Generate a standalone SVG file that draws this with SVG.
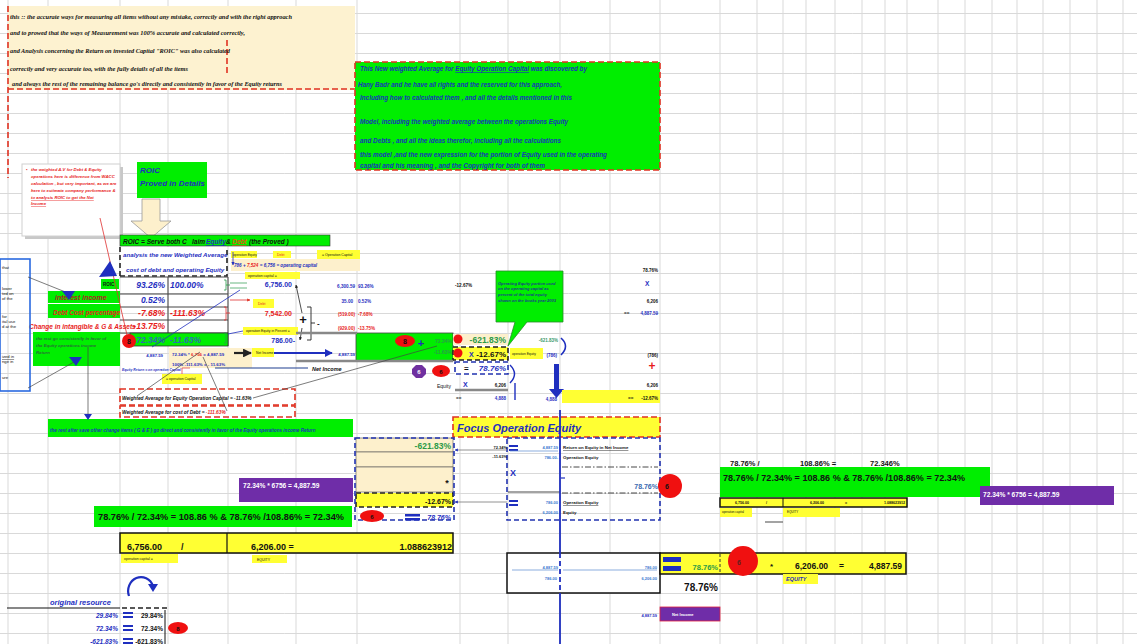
<svg xmlns="http://www.w3.org/2000/svg" width="1137" height="644" viewBox="0 0 1137 644">
<defs>
<style>
text{font-family:"Liberation Sans",Arial,sans-serif}
.bi{font-weight:bold;font-style:italic}
.b{font-weight:bold}
.sr{font-family:"Liberation Serif","Times New Roman",serif;font-style:italic;font-weight:bold;font-size:6.4px;fill:#111}
.gt{font-weight:bold;font-style:italic;font-size:6.4px;fill:#1636b8}
.bl{fill:#1f2fbf}
.rd{fill:#e81c1c}
.gn{fill:#2c9a48}
.k{fill:#111}
.w{fill:#fff}
.gbox{fill:#00ee00}
.ybox{fill:#ffff33}
.cbox{fill:#fdf0cc}
.pbox{fill:#6f2da8}
.rdash{fill:none;stroke:#e03222;stroke-width:1.6;stroke-dasharray:6 3}
.bdash{fill:none;stroke:#2233b0;stroke-width:1.6;stroke-dasharray:5 3}
.kdash{fill:none;stroke:#222;stroke-width:1.6;stroke-dasharray:5 3}
.kbox{fill:none;stroke:#111;stroke-width:1.5}
.grid{stroke:#d9d9d9;stroke-width:1}
.ln{stroke:#444;stroke-width:0.7;fill:none}
.bln{stroke:#1f2fbf;fill:none}
.dd{stroke:#333;stroke-width:0.9;stroke-dasharray:6 2 1.5 2;fill:none}
</style>
<pattern id="rows" x="0" y="13" width="1137" height="20" patternUnits="userSpaceOnUse"><line x1="0" y1="0.5" x2="1137" y2="0.5" class="grid"/></pattern>
<marker id="abl" viewBox="0 0 10 10" refX="9" refY="5" markerWidth="4" markerHeight="4" orient="auto"><path d="M0,0L10,5L0,10z" fill="#1f2fbf"/></marker>
<marker id="ak" viewBox="0 0 10 10" refX="9" refY="5" markerWidth="4" markerHeight="4" orient="auto"><path d="M0,0L10,5L0,10z" fill="#222"/></marker>
<marker id="ar" viewBox="0 0 10 10" refX="9" refY="5" markerWidth="4" markerHeight="4" orient="auto"><path d="M0,0L10,5L0,10z" fill="#e03222"/></marker>
</defs>

<g id="grid">
<rect x="0" y="0" width="1137" height="644" fill="#fff"/>
<rect x="0" y="0" width="1137" height="644" fill="url(#rows)"/>
<path class="grid" d="M8,0V644M48,0V644M120,0V644M168,0V644M228,0V644M296,0V644M357,0V644M460,0V644M508,0V644M560,0V644M610,0V644M660,0V644M720,0V644M757,0V644M783,0V644M806,0V644M835,0V644M862,0V644M885,0V644M907,0V644M938,0V644M965,0V644M992,0V644M1017,0V644M1043,0V644M1070,0V644M1097,0V644M1123,0V644"/>
</g>

<g id="intro-note">
<rect x="8" y="6" width="347" height="84" fill="#fdf2d0"/>
<path class="rdash" d="M8,89H355M8,6V178M227,40V76"/>
<text class="sr" x="10" y="19" textLength="282" lengthAdjust="spacingAndGlyphs">this :: the accurate ways for measuring all items without  any mistake, correctly and with the right approach</text>
<text class="sr" x="10" y="35" textLength="235" lengthAdjust="spacingAndGlyphs">and to prowed that  the ways of Measurement was 100% accurate and calculated correctly,</text>
<text class="sr" x="10" y="53" textLength="220" lengthAdjust="spacingAndGlyphs">and Analysis concerning the Return on invested Capital "ROIC"  was also calculated</text>
<text class="sr" x="10" y="71" textLength="178" lengthAdjust="spacingAndGlyphs">correctly and very accurate too, with the fully details of all the items</text>
<text class="sr" x="12" y="86" textLength="270" lengthAdjust="spacingAndGlyphs">and always the rest of the remaining  balance go's directly and consistently in favor of the Equity returns</text>
</g>

<g id="copyright-box">
<rect x="355" y="62" width="305" height="108" class="gbox"/>
<rect x="355" y="62" width="305" height="108" class="rdash"/>
<text class="gt" x="360" y="71" textLength="227" lengthAdjust="spacingAndGlyphs">This New weighted Average for <tspan text-decoration="underline">Equity Operation Capital</tspan> was discovered by</text>
<text class="gt" x="358" y="87" textLength="204" lengthAdjust="spacingAndGlyphs">Hany Badr and he have all rights  and the reserved for this approach,</text>
<text class="gt" x="360" y="100" textLength="212" lengthAdjust="spacingAndGlyphs">Including  how to calculated them , and all the details mentioned in this</text>
<text class="gt" x="360" y="124" textLength="208" lengthAdjust="spacingAndGlyphs">Model, including the weighted average between the operations Equity</text>
<text class="gt" x="360" y="143" textLength="201" lengthAdjust="spacingAndGlyphs">and Debts , and all the  ideas therefor,  including all the calculations</text>
<text class="gt" x="360" y="157" textLength="247" lengthAdjust="spacingAndGlyphs">this model ,and the new expression for the portion of Equity used in the operating</text>
<text class="gt" x="360" y="168" textLength="185" lengthAdjust="spacingAndGlyphs">capital and his meaning   , and the Copyright for both of them</text>
</g>

<g id="wacc-note">
<rect x="25" y="167" width="98" height="72" fill="#c8c8c8"/>
<rect x="22" y="164" width="98" height="72" fill="#fff" stroke="#d0d0d0"/>
<g class="bi rd" font-size="4.3">
<text x="26" y="171">•</text>
<text x="31" y="171">the weighted A.V for Debt &amp; Equity</text>
<text x="31" y="178">operations here is difference from WACC</text>
<text x="31" y="185">calculation , but very important, as we are</text>
<text x="31" y="192">here to estimate company performance &amp;</text>
<text x="31" y="199" text-decoration="underline">to analysis ROIC to get the Net</text>
<text x="31" y="205" text-decoration="underline">Income</text>
</g>
</g>

<g id="roic-title">
<rect x="137" y="162" width="70" height="36" class="gbox"/>
<text class="bi bl" x="140" y="173" font-size="8">ROIC</text>
<text class="bi bl" x="140" y="186" font-size="8">Proved in Details</text>
<polygon points="142,199 160,199 160,221 171,221 151,238 131,221 142,221" fill="#fdf0cc" stroke="#999" stroke-width="0.8"/>
</g>

<g id="roic-bar">
<rect x="120" y="235" width="210" height="11" class="gbox" stroke="#333" stroke-width="0.6"/>
<text class="bi k" x="123" y="244" font-size="6.5">ROIC =  Serve both C</text>
<text class="bi k" x="192" y="244" font-size="6.5">laim</text>
<text class="bi bl" x="206" y="244" font-size="6.5" text-decoration="underline">Equity</text>
<text class="bi k" x="226" y="244" font-size="6.5">&amp;</text>
<text class="bi" x="232" y="244" font-size="6.5" fill="#e05010" text-decoration="underline">Debt</text>
<text class="bi k" x="249" y="244" font-size="6.5">(the Proved )</text>
</g>

<g id="analysis-box">
<rect x="120" y="247" width="107" height="29" fill="#fff"/>
<path class="kdash" d="M120,276H227V247M120,247V276"/>
<text class="bi bl" x="123" y="257" font-size="6.2">analysis  the new Weighted Average</text>
<text class="bi bl" x="126" y="272" font-size="6.2">cost of debt and operating Equity</text>
</g>

<g id="ratio-table">
<path stroke="#444" stroke-width="1" fill="none" d="M120,277H228M120,294H228M120,307H228M120,320H228M120,333H228M168,277V346M228,277V346"/>
<rect x="130" y="333" width="98" height="13" class="gbox" stroke="#333" stroke-width="0.8"/>
<g class="bi" font-size="8.5">
<text class="bl" x="165" y="288" text-anchor="end">93.26%</text>
<text class="bl" x="170" y="288">100.00%</text>
<text class="bl" x="165" y="303" text-anchor="end">0.52%</text>
<text class="rd" x="165" y="316" text-anchor="end">-7.68%</text>
<text class="rd" x="170" y="316">-111.63%</text>
<text class="rd" x="165" y="329" text-anchor="end">-13.75%</text>
<text x="165" y="343" text-anchor="end" fill="#2a6fb0">72.34%</text>
<text x="170" y="343" fill="#2a6fb0">-11.63%</text>
</g>
<ellipse cx="129" cy="341" rx="7" ry="7" fill="#f01010"/>
<text class="b k" x="129" y="344" font-size="7" text-anchor="middle">8</text>
</g>

<g id="left-labels">
<rect x="101" y="279" width="18" height="10" class="gbox"/>
<text class="b k" x="103" y="286" font-size="4.5">ROIC</text>
<rect x="48" y="291" width="72" height="27" class="gbox"/>
<line x1="48" y1="303.5" x2="120" y2="303.5" stroke="#fff"/>
<text class="bi" x="55" y="300" font-size="7" fill="#b02020">interest income</text>
<text class="bi rd" x="53" y="315" font-size="6.5">Debt Cost percentage</text>
<text class="bi rd" x="29" y="329" font-size="6.5">Change in intangible &amp; G &amp; Assets</text>
<rect x="33" y="332" width="87" height="34" class="gbox"/>
<g class="bi" font-size="4.3" fill="#2a6a3a">
<text x="36" y="340">the rest  go consistently in favor of</text>
<text x="36" y="347">the Equity operations income</text>
<text x="36" y="354">Return</text>
</g>
<rect x="0" y="259" width="30" height="132" fill="none" stroke="#2a6ae0" stroke-width="1.6"/>
<g font-size="4.2" class="k">
<text x="2" y="269">that</text>
<text x="2" y="290">lower</text>
<text x="2" y="295">ted on</text>
<text x="2" y="300">of the</text>
<text x="2" y="318">for</text>
<text x="2" y="323">ital use</text>
<text x="2" y="328">d at the</text>
<text x="2" y="358" text-decoration="underline">ized in</text>
<text x="2" y="363">nge in</text>
<text x="2" y="379">ure</text>
</g>
<rect x="48" y="419" width="305" height="18" class="gbox"/>
<text class="bi" x="50" y="432" font-size="4.6" fill="#1636b8">the rest  after save  other change items ( G &amp; E )  go direct  and consistently in favor of the Equity operations income Return</text>
</g>

<g id="capital-calc">
<rect x="231" y="251" width="26" height="7" class="ybox"/>
<text x="233" y="256" font-size="3.3" class="k">operation Equity</text>
<rect x="273" y="251" width="18" height="7" class="ybox"/>
<text x="277" y="256" font-size="3.5" class="rd">Debt</text>
<rect x="317" y="250" width="43" height="9" class="ybox"/>
<text x="322" y="256" font-size="3.5" class="k">=  Operation Capital</text>
<rect x="231" y="259" width="129" height="12" class="cbox"/>
<text class="bi" x="234" y="267" font-size="4.6"><tspan class="bl">786 + </tspan><tspan class="rd">7,524</tspan><tspan class="bl"> = 6,756 = operating capital</tspan></text>
<rect x="245" y="272" width="55" height="7" class="ybox"/>
<text x="248" y="277" font-size="3.5" class="k">operation capital =</text>
<text class="b bl" x="292" y="287" font-size="7" text-anchor="end">6,756.00</text>
<rect x="253" y="299" width="21" height="9" class="ybox"/>
<text x="258" y="305" font-size="3.5" class="rd">Debt</text>
<text class="b rd" x="292" y="316" font-size="7" text-anchor="end">7,542.00</text>
<text class="b k" x="303" y="324" font-size="13" text-anchor="middle">+</text>
<text class="b k" x="317" y="326" font-size="8">-</text>
<rect x="243" y="327" width="55" height="8" class="ybox"/>
<text x="246" y="332" font-size="3.4" class="k">operation Equity in Percent =</text>
<text class="b bl" x="295" y="343" font-size="7" text-anchor="end">786.00-</text>
<text class="b bl" x="163" y="357" font-size="4.3" text-anchor="end">4,887.59</text>
<rect x="169" y="348" width="83" height="20" class="cbox"/>
<text class="b" x="172" y="356" font-size="4.4"><tspan class="bl">72.34% * </tspan><tspan class="rd">6,756</tspan><tspan class="bl"> = 4,887.59</tspan></text>
<text class="b bl" x="172" y="366" font-size="4.4">100% -111.63% = - 11.63%</text>
<rect x="252" y="348" width="22" height="9" class="ybox"/>
<text x="256" y="354" font-size="3.4" class="k">Net Income</text>
<text class="b bl" x="355" y="356" font-size="4.3" text-anchor="end">4,887.59</text>
<text class="bi k" x="312" y="371" font-size="5.5">Net Income</text>
<text class="bi bl" x="122" y="371" font-size="3.4">Equity Return = on operation Capital</text>
<rect x="162" y="374" width="40" height="10" class="ybox"/>
<text x="166" y="380" font-size="3.5" class="k">= operation Capital</text>
<g class="b" font-size="4.6">
<text class="bl" x="355" y="288" text-anchor="end">6,300.59</text><text class="bl" x="358" y="288">93.26%</text>
<text class="bl" x="353" y="303" text-anchor="end">35.00</text><text class="bl" x="358" y="303">0.52%</text>
<text class="rd" x="355" y="316" text-anchor="end">(519.00)</text><text class="rd" x="358" y="316">-7.68%</text>
<text class="rd" x="355" y="330" text-anchor="end">(929.00)</text><text class="rd" x="358" y="330">-13.75%</text>
<text class="k" x="455" y="287">-12.67%</text>
</g>
</g>

<g id="weighted-avg">
<rect x="120" y="389" width="175" height="28" fill="#fff"/>
<rect x="120" y="389" width="175" height="16" class="rdash"/>
<rect x="120" y="406" width="175" height="11" class="rdash"/>
<text class="bi k" x="122" y="400" font-size="4.8">Weighted Average for Equity Operation Capital = -11.63%</text>
<text class="bi k" x="122" y="414" font-size="4.8">Weighted Average for cost of Debt = <tspan class="rd">-111.63%</tspan></text>
</g>

<g id="sum-box">
<rect x="356" y="333" width="97" height="28" class="gbox" stroke="#444" stroke-width="0.8"/>
<ellipse cx="405" cy="341" rx="10" ry="6" fill="#f01010"/>
<text class="b k" x="405" y="344" font-size="7" text-anchor="middle">8</text>
<text class="b bl" x="421" y="347" font-size="11" text-anchor="middle">+</text>
<text class="b gn" x="452" y="343" font-size="5" text-anchor="end">72.34%</text>
<text class="b gn" x="452" y="354" font-size="5" text-anchor="end">-11.63%</text>
<polygon points="416,365 422,365 426,369 426,374 422,378 416,378 412,374 412,369" fill="#7030a0"/>
<text class="b w" x="419" y="374" font-size="6" text-anchor="middle">6</text>
<ellipse cx="441" cy="371" rx="9" ry="6" fill="#f01010"/>
<text class="b k" x="441" y="374" font-size="6" text-anchor="middle">6</text>
<text class="k" x="437" y="388" font-size="5">Equity</text>
</g>

<g id="equity-calc">
<rect x="453" y="334" width="55" height="11" class="cbox"/>
<circle cx="458" cy="339" r="4.5" fill="#f01010"/>
<text class="b gn" x="506" y="343" font-size="8.5" text-anchor="end">-621.83%</text>
<rect x="453" y="347" width="55" height="13" class="ybox"/>
<rect x="453" y="347" width="55" height="13" class="kdash" stroke-width="1"/>
<circle cx="458" cy="353" r="4.5" fill="#f01010"/>
<text class="b bl" x="469" y="357" font-size="7">X</text>
<text class="b k" x="506" y="357" font-size="8" text-anchor="end">-12.67%</text>
<rect x="455" y="362" width="53" height="12" fill="#fff"/>
<rect x="455" y="362" width="53" height="12" class="bdash"/>
<text class="b k" x="464" y="371" font-size="8">=</text>
<text class="bi bl" x="506" y="371" font-size="8" text-anchor="end">78.76%</text>
<text class="b bl" x="463" y="387" font-size="7">X</text>
<text class="b k" x="506" y="387" font-size="4.5" text-anchor="end">6,206</text>
<line x1="455" y1="390" x2="508" y2="390" stroke="#888" stroke-width="2.5"/>
<text class="b k" x="456" y="400" font-size="4.5">==</text>
<text class="b bl" x="506" y="400" font-size="4.5" text-anchor="end">4,888</text>
<path d="M496,271H563V322H527L508,346L515,322H496Z" fill="#00ee00" stroke="#2a8a2a" stroke-width="0.8"/>
<g class="bi" font-size="4" fill="#1a3a8a">
<text x="498" y="285">Operating Equity portion used</text>
<text x="498" y="290">on the operating capital as</text>
<text x="498" y="296">percent of the total equity</text>
<text x="498" y="302">shown on the books year 2003</text>
</g>
<rect x="510" y="348" width="33" height="11" class="ybox"/>
<text x="512" y="355" font-size="3.3" class="k">operation Equity</text>
<text class="b" x="558" y="342" font-size="4.5" text-anchor="end" fill="#3a9a6a">-621.83%</text>
<text class="b bl" x="557" y="357" font-size="4.5" text-anchor="end">(786)</text>
<path d="M561,338Q570,346 561,355" fill="none" stroke="#1f2fbf" stroke-width="1.6"/>
<path d="M510,365Q519,374 510,383M515,383V400" fill="none" stroke="#1f2fbf" stroke-width="1.4"/>
<polygon points="554,364 559,364 559,389 564,389 556.5,398 549,389 554,389" fill="#1f2fbf"/>
<text class="b bl" x="557" y="401" font-size="4.5" text-anchor="end">4,888</text>
<rect x="562" y="390" width="98" height="13" class="ybox"/>
<text class="b k" x="628" y="400" font-size="4.5">==</text>
<text class="b k" x="658" y="400" font-size="4.5" text-anchor="end">-12.67%</text>
<g class="b" font-size="4.5">
<text class="k" x="658" y="272" text-anchor="end">78.76%</text>
<text class="bl" x="645" y="286" font-size="6.5">X</text>
<text class="k" x="658" y="303" text-anchor="end">6,206</text>
<text class="k" x="624" y="315">==</text>
<text class="bl" x="658" y="315" text-anchor="end">4,887.59</text>
<text class="k" x="658" y="357" text-anchor="end">(786)</text>
<text class="k" x="658" y="387" text-anchor="end">6,206</text>
<text class="k" x="658" y="401" text-anchor="end"></text>
</g>
<text class="b rd" x="652" y="370" font-size="12" text-anchor="middle">+</text>
</g>

<g id="focus-operation-equity">
<rect x="453" y="417" width="207" height="20" class="ybox"/>
<rect x="453" y="417" width="207" height="20" class="rdash" stroke="#e06020"/>
<text class="bi bl" x="457" y="432" font-size="11">Focus Operation Equity</text>
<rect x="356" y="438" width="97" height="14" class="cbox" stroke="#555" stroke-width="0.6"/>
<rect x="356" y="452" width="97" height="15" class="cbox" stroke="#555" stroke-width="0.6"/>
<rect x="356" y="467" width="97" height="25" class="cbox" stroke="#555" stroke-width="0.6"/>
<rect x="356" y="493" width="97" height="14" class="ybox"/>
<rect x="356" y="493" width="97" height="14" class="kdash"/>
<rect x="355" y="438" width="99" height="82" class="bdash"/>
<text class="b gn" x="451" y="449" font-size="8.5" text-anchor="end">-621.83%</text>
<text class="b k" x="447" y="486" font-size="9" text-anchor="middle">*</text>
<text class="b k" x="451" y="504" font-size="7" text-anchor="end">-12.67%</text>
<ellipse cx="372" cy="516" rx="12" ry="6" fill="#f01010"/>
<text class="b k" x="372" y="519" font-size="6" text-anchor="middle">6</text>
<rect x="405" y="514" width="15" height="2.5" fill="#1f2fbf"/><rect x="405" y="518" width="15" height="2.5" fill="#1f2fbf"/>
<text class="bi bl" x="451" y="520" font-size="7" text-anchor="end">78.76%</text>
<rect x="507" y="438" width="153" height="82" class="bdash"/>
<text class="b k" x="507" y="449" font-size="4" text-anchor="end">72.34%</text>
<text class="b k" x="507" y="458" font-size="4" text-anchor="end">-11.63%</text>
<rect x="509" y="445" width="9" height="2" fill="#1f2fbf"/><rect x="509" y="449" width="9" height="2" fill="#1f2fbf"/>
<text class="b" x="558" y="449" font-size="4" text-anchor="end" fill="#3a7ad0">4,887.59</text>
<text class="b k" x="563" y="449" font-size="4.4" text-decoration="underline">Return on Equity in Net Income</text>
<text class="b" x="558" y="459" font-size="4" text-anchor="end" fill="#3a7ad0">786.00-</text>
<text class="b k" x="563" y="459" font-size="4.4">Operation Equity</text>
<text class="b bl" x="510" y="476" font-size="9">X</text>
<path class="dd" d="M562,467H658M562,493H658"/>
<line x1="508" y1="492" x2="560" y2="492" stroke="#333" stroke-width="0.9"/>
<line x1="561" y1="478" x2="565" y2="478" stroke="#1f2fbf" stroke-width="1.2"/>
<text class="b" x="658" y="489" font-size="7" text-anchor="end" fill="#3a6ab0">78.76%</text>
<rect x="509" y="500" width="9" height="2" fill="#1f2fbf"/><rect x="509" y="504" width="9" height="2" fill="#1f2fbf"/>
<text class="b" x="558" y="504" font-size="4" text-anchor="end" fill="#3a7ad0">786.00</text>
<text class="b k" x="563" y="504" font-size="4.4" text-decoration="underline">Operation Equity</text>
<text class="b" x="558" y="514" font-size="4" text-anchor="end" fill="#3a7ad0">6,206.00</text>
<text class="b k" x="563" y="514" font-size="4.4">Equity</text>
<circle cx="670" cy="486" r="12" fill="#f01010"/>
<text class="b k" x="665" y="489" font-size="7">6</text>
</g>

<g id="left-formulas">
<rect x="239" y="478" width="114" height="24" class="pbox"/>
<text class="b w" x="243" y="488" font-size="6.6">72.34% * 6756 = 4,887.59</text>
<rect x="94" y="506" width="258" height="21" class="gbox"/>
<text class="b k" x="98" y="520" font-size="8.5" textLength="246" lengthAdjust="spacingAndGlyphs">78.76%  /  72.34% =  108.86 %  &amp; 78.76% /108.86%  = 72.34%</text>
<rect x="120" y="533" width="333" height="20" class="ybox"/>
<rect x="120" y="533" width="333" height="20" class="kbox"/>
<line x1="227" y1="533" x2="227" y2="553" stroke="#111" stroke-width="1.2"/>
<text class="b k" x="127" y="550" font-size="9">6,756.00</text>
<text class="b k" x="181" y="550" font-size="9">/</text>
<text class="b k" x="251" y="550" font-size="9">6,206.00   =</text>
<text class="b k" x="452" y="550" font-size="9" text-anchor="end">1.088623912</text>
<rect x="121" y="554" width="57" height="9" class="ybox"/>
<text x="124" y="560" font-size="3.5" class="k">operation capital =</text>
<rect x="252" y="555" width="35" height="8" class="ybox"/>
<text x="257" y="561" font-size="3.5" class="k">EQUITY</text>
</g>

<g id="original-resource">
<path d="M129,596 A12,13 0 1 1 153,586" fill="none" stroke="#1f2fbf" stroke-width="2.2"/>
<polygon points="148,584 158,584 153,592" fill="#1f2fbf"/>
<text class="bi bl" x="50" y="605" font-size="7.5">original resource</text>
<line x1="7" y1="608" x2="120" y2="608" stroke="#111" stroke-width="1.2"/>
<path class="kdash" d="M122,608H167"/>
<line x1="165" y1="610" x2="165" y2="644" stroke="#111" stroke-width="1"/>
<g class="bi" font-size="6.5">
<text class="bl" x="118" y="618" text-anchor="end">29.84%</text>
<text class="bl" x="118" y="631" text-anchor="end">72.34%</text>
<text class="bl" x="118" y="644" text-anchor="end">-621.83%</text>
</g>
<g class="b k" font-size="6.5">
<text x="163" y="618" text-anchor="end">29.84%</text>
<text x="163" y="631" text-anchor="end">72.34%</text>
<text x="163" y="644" text-anchor="end">-621.83%</text>
</g>
<rect x="123" y="612" width="10" height="2" fill="#1f2fbf"/><rect x="123" y="616" width="10" height="2" fill="#1f2fbf"/>
<rect x="123" y="625" width="10" height="2" fill="#1f2fbf"/><rect x="123" y="629" width="10" height="2" fill="#1f2fbf"/>
<rect x="123" y="638" width="10" height="2" fill="#1f2fbf"/><rect x="123" y="642" width="10" height="2" fill="#1f2fbf"/>
<ellipse cx="178" cy="628" rx="10" ry="6" fill="#f01010"/>
<text class="b k" x="178" y="631" font-size="6" text-anchor="middle">8</text>
</g>

<g id="right-formulas">
<text class="b k" x="730" y="466" font-size="7.5">78.76% /</text>
<text class="b k" x="800" y="466" font-size="7.5">108.86% =</text>
<text class="b k" x="870" y="466" font-size="7.5">72.346%</text>
<rect x="720" y="467" width="270" height="30" class="gbox"/>
<text class="b k" x="723" y="481" font-size="8.3" textLength="242" lengthAdjust="spacingAndGlyphs">78.76%  /  72.34% =  108.86 %  &amp; 78.76% /108.86%  = 72.34%</text>
<rect x="980" y="486" width="134" height="19" class="pbox"/>
<text class="b w" x="983" y="497" font-size="6.6">72.34% * 6756 = 4,887.59</text>
<rect x="720" y="498" width="187" height="9" class="ybox"/>
<rect x="720" y="498" width="187" height="9" class="kbox" stroke-width="1"/>
<line x1="783" y1="498" x2="783" y2="507" stroke="#111"/>
<g class="b k" font-size="3.6">
<text x="735" y="504">6,756.00</text><text x="766" y="504">/</text>
<text x="810" y="504">6,206.00</text><text x="845" y="504">=</text>
<text x="905" y="504" text-anchor="end">1.088623912</text>
</g>
<rect x="720" y="508" width="32" height="9" class="ybox"/>
<text x="722" y="513" font-size="3" class="k">operation capital</text>
<rect x="783" y="508" width="57" height="9" class="ybox"/>
<text x="787" y="513" font-size="3" class="k">EQUITY</text>
<line x1="765" y1="522" x2="783" y2="522" stroke="#666" stroke-width="1.2"/>
</g>

<g id="bottom-result">
<rect x="507" y="553" width="153" height="40" fill="#fff"/>
<rect x="507" y="553" width="153" height="40" class="kbox"/>
<text class="b" x="558" y="569" font-size="4" text-anchor="end" fill="#3a7ad0">4,887.59</text>
<text class="b" x="557" y="580" font-size="4" text-anchor="end" fill="#3a7ad0">786.00</text>
<text class="b" x="657" y="569" font-size="4" text-anchor="end" fill="#3a7ad0">786.00</text>
<text class="b" x="657" y="580" font-size="4" text-anchor="end" fill="#3a7ad0">6,206.00</text>
<path d="M512,570H558M563,570H657" stroke="#5a8ad0" stroke-width="0.7" fill="none"/>
<rect x="660" y="553" width="246" height="21" class="ybox"/>
<rect x="660" y="553" width="246" height="21" class="kbox"/>
<rect x="663" y="557" width="18" height="5" fill="#1f2fbf"/><rect x="663" y="566" width="18" height="5" fill="#1f2fbf"/>
<text class="b gn" x="718" y="570" font-size="7.5" text-anchor="end">78.76%</text>
<line x1="720" y1="554" x2="720" y2="573" stroke="#333" stroke-dasharray="3 2"/>
<circle cx="743" cy="561" r="15" fill="#f01010"/>
<text class="b" x="737" y="565" font-size="7" fill="#602020">6</text>
<text class="b k" x="770" y="569" font-size="8">*</text>
<text class="b k" x="795" y="569" font-size="8.5">6,206.00</text>
<text class="b k" x="839" y="569" font-size="8.5">=</text>
<text class="b k" x="902" y="569" font-size="8.5" text-anchor="end">4,887.59</text>
<rect x="783" y="574" width="35" height="10" class="ybox"/>
<text class="bi bl" x="786" y="581" font-size="5.5">EQUITY</text>
<text class="b k" x="718" y="591" font-size="10" text-anchor="end">78.76%</text>
<rect x="660" y="607" width="60" height="14" class="pbox" stroke="#e02040" stroke-width="0.8"/>
<text class="b w" x="672" y="616" font-size="4">Net Income</text>
<text class="b bl" x="657" y="617" font-size="4" text-anchor="end">4,887.59</text>
</g>

<g id="connectors">
<line x1="100" y1="218" x2="127" y2="335" stroke="#e03030" stroke-width="0.8"/>
<line x1="28" y1="277" x2="68" y2="293" class="ln"/>
<polygon points="62,291 75,291 69,300" fill="#1f2fbf"/>
<polygon points="99,277 110,261 117,276" fill="#1f2fbf"/>
<line x1="28" y1="388" x2="74" y2="362" class="ln"/>
<polygon points="69,357 82,357 76,366" fill="#1f2fbf"/>
<line x1="88" y1="347" x2="88" y2="418" class="ln"/>
<polygon points="84,414 92,414 88,420" fill="#1f2fbf"/>
<line x1="152" y1="347" x2="240" y2="290" stroke="#1f2fbf" stroke-width="0.8"/>
<path d="M224,280h2v10h-2M226,285H230" stroke="#2a9a4a" fill="none" stroke-width="0.8"/>
<path d="M230,283H247M230,288H247" stroke="#2a9a4a" stroke-width="0.7" fill="none"/>
<path d="M224,307h2v13h-2M226,313H230M230,300H250" stroke="#e03030" fill="none" stroke-width="0.8" marker-end="url(#ar)"/>
<path d="M224,333h2v10h-2" stroke="#2a9a4a" fill="none" stroke-width="0.8"/>
<line x1="228" y1="334" x2="243" y2="331" stroke="#1f2fbf" stroke-width="0.8"/>
<path d="M307,307h4v33h-4M311,323h4" stroke="#222" fill="none" stroke-width="0.9"/>
<line x1="302" y1="313" x2="296" y2="285" stroke="#222" stroke-width="0.8" marker-end="url(#ak)"/>
<line x1="302" y1="328" x2="300" y2="340" stroke="#222" stroke-width="0.8" marker-end="url(#ak)"/>
<line x1="233" y1="252" x2="233" y2="265" stroke="#1f2fbf" stroke-width="0.8" marker-end="url(#abl)"/>
<line x1="234" y1="353" x2="251" y2="353" stroke="#222" stroke-width="2.2" marker-end="url(#ak)"/>
<line x1="274" y1="353" x2="332" y2="353" stroke="#1f2fbf" stroke-width="2" marker-end="url(#abl)"/>
<line x1="296" y1="333" x2="357" y2="333" stroke="#888" stroke-width="2.5"/>
<line x1="296" y1="361" x2="453" y2="361" stroke="#888" stroke-width="2.5"/>
<line x1="215" y1="368" x2="308" y2="368" stroke="#1f3f90" stroke-width="1.2"/>
<path d="M182,368V374M182,368H190" stroke="#e03030" stroke-width="0.7" fill="none"/>
<line x1="137" y1="396" x2="200" y2="352" class="ln"/>
<line x1="203" y1="357" x2="227" y2="411" class="ln"/>
<line x1="253" y1="398" x2="437" y2="346" class="ln"/>
<line x1="560" y1="410" x2="560" y2="553" stroke="#1f2fbf" stroke-width="1.8"/>
<line x1="560" y1="553" x2="560" y2="593" stroke="#1f2fbf" stroke-width="1.8" stroke-dasharray="5 3"/>
<line x1="560" y1="593" x2="560" y2="644" stroke="#1f2fbf" stroke-width="1.8"/>
<line x1="507" y1="450" x2="455" y2="450" stroke="#777" stroke-width="0.8" marker-end="url(#abl)"/>
<line x1="507" y1="502" x2="455" y2="502" stroke="#777" stroke-width="0.8" marker-end="url(#abl)"/>
<line x1="510" y1="451" x2="558" y2="451" stroke="#5a8ad0" stroke-width="0.7"/>
</g>
</svg>
